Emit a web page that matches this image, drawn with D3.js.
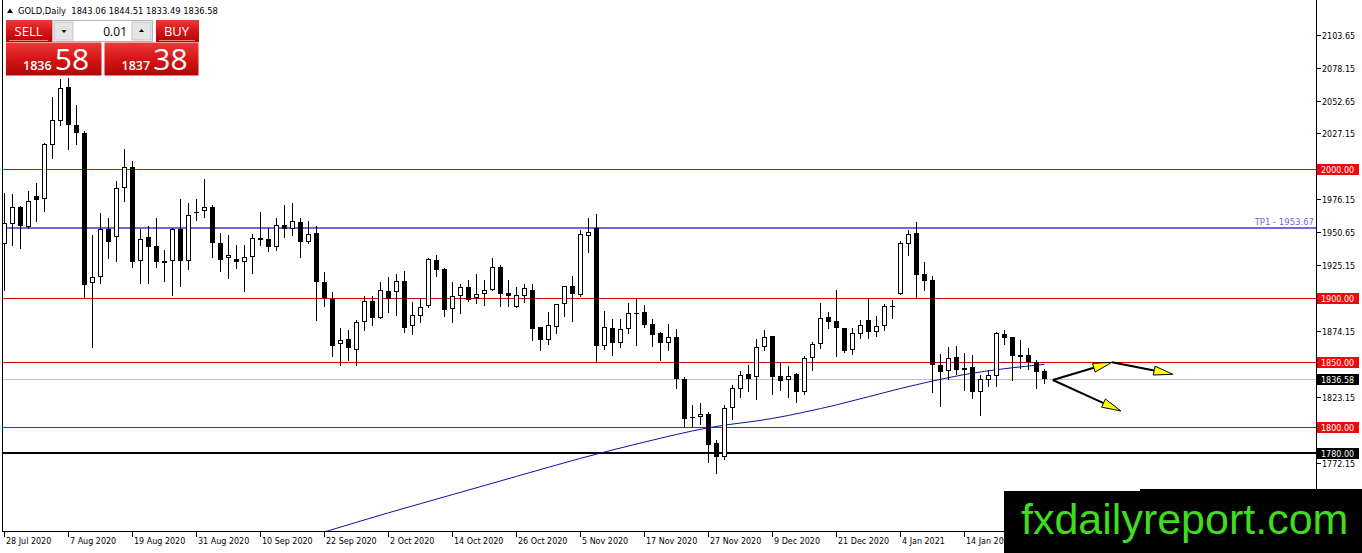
<!DOCTYPE html>
<html>
<head>
<meta charset="utf-8">
<script src="https://cdn.jsdelivr.net/npm/d3@7"></script>
<style>
  body { margin: 0; background: #fff; }
  svg { display: block; }
</style>
</head>
<body>
<div id="chart"></div>
<script>
// GOLD daily candles (bar 0 = 28 Jul 2020)
const open = [
  1941.5, 1957.0, 1970.4, 1954.9, 1978.7, 1976.1, 2018.4, 2037.0, 2062.9, 2033.5,
  2027.3, 1911.1, 1915.7, 1953.4, 1946.7, 1984.9, 2001.4, 1928.6, 1946.7, 1940.0,
  1928.1, 1928.1, 1953.4, 1928.6, 1966.6, 1966.8, 1970.4, 1942.3, 1930.4, 1929.9,
  1927.8, 1931.4, 1946.4, 1945.4, 1939.2, 1956.2, 1953.1, 1958.3, 1943.3, 1950.0,
  1911.9, 1898.9, 1864.3, 1867.9, 1859.2, 1880.9, 1897.4, 1884.4, 1905.1, 1904.6,
  1912.9, 1877.8, 1886.0, 1893.3, 1928.9, 1922.2, 1891.2, 1901.0, 1908.2, 1899.5,
  1903.0, 1906.1, 1923.7, 1903.6, 1892.7, 1901.5, 1905.7, 1877.2, 1866.9, 1877.2,
  1894.8, 1909.2, 1902.0, 1948.0, 1954.1, 1862.5, 1876.5, 1864.6, 1875.9, 1887.8,
  1888.8, 1879.6, 1872.4, 1865.1, 1869.3, 1836.7, 1807.4, 1807.3, 1809.8, 1787.1,
  1776.3, 1814.5, 1829.4, 1840.8, 1838.3, 1861.5, 1870.3, 1839.3, 1835.9, 1840.6,
  1826.7, 1853.0, 1863.8, 1885.0, 1881.9, 1876.2, 1859.2, 1872.0, 1882.4, 1873.1,
  1877.8, 1893.7, 1903.0, 1941.8, 1950.0, 1918.0, 1913.4, 1847.8, 1843.1, 1854.0,
  1845.7, 1846.2, 1826.6, 1836.4, 1839.5, 1871.6, 1869.5, 1855.5, 1855.5, 1850.3,
  1843.06
];
const high = [
  1980.8, 1980.2, 1970.9, 1982.8, 1989.0, 2020.0, 2055.2, 2069.1, 2070.1, 2049.4,
  2029.3, 1948.3, 1965.3, 1961.7, 1990.5, 2014.9, 2005.6, 1952.9, 1955.5, 1961.7,
  1936.9, 1953.6, 1976.1, 1973.0, 1976.6, 1992.1, 1972.0, 1950.3, 1948.5, 1940.7,
  1940.7, 1949.5, 1966.5, 1953.7, 1961.9, 1971.7, 1973.3, 1961.4, 1959.3, 1955.2,
  1919.6, 1904.6, 1876.2, 1874.7, 1882.9, 1901.5, 1901.5, 1911.9, 1916.0, 1918.5,
  1920.6, 1896.8, 1899.9, 1930.4, 1933.0, 1922.6, 1911.9, 1910.8, 1913.4, 1918.0,
  1913.4, 1930.9, 1925.3, 1913.4, 1908.2, 1910.3, 1910.3, 1877.2, 1889.1, 1895.3,
  1909.2, 1916.5, 1952.1, 1961.4, 1964.5, 1889.4, 1883.7, 1883.2, 1896.1, 1899.1,
  1894.0, 1883.7, 1873.4, 1879.6, 1875.4, 1838.3, 1816.6, 1818.1, 1811.4, 1789.7,
  1817.0, 1832.5, 1843.4, 1848.0, 1867.7, 1874.9, 1870.3, 1849.6, 1847.3, 1841.4,
  1855.0, 1865.4, 1895.8, 1888.6, 1905.7, 1876.7, 1876.2, 1882.4, 1899.5, 1885.5,
  1894.8, 1897.9, 1943.8, 1952.6, 1958.8, 1927.3, 1916.5, 1856.1, 1861.7, 1862.3,
  1857.1, 1855.5, 1840.0, 1843.7, 1873.1, 1875.1, 1869.5, 1866.9, 1860.7, 1851.9,
  1844.51
];
const low = [
  1905.9, 1940.7, 1938.2, 1954.0, 1959.6, 1967.3, 2008.1, 2033.7, 2014.9, 2019.0,
  1900.7, 1862.0, 1911.5, 1930.7, 1928.6, 1975.1, 1923.9, 1911.1, 1911.1, 1923.4,
  1913.1, 1901.8, 1909.0, 1922.4, 1960.1, 1962.7, 1931.7, 1920.6, 1915.4, 1923.2,
  1905.1, 1919.1, 1940.7, 1936.1, 1936.6, 1946.9, 1948.5, 1931.4, 1942.5, 1882.4,
  1893.7, 1855.0, 1847.8, 1851.4, 1847.8, 1874.7, 1878.8, 1884.0, 1889.1, 1886.5,
  1873.6, 1872.0, 1880.9, 1892.7, 1917.0, 1885.5, 1881.3, 1888.1, 1897.4, 1895.8,
  1894.3, 1905.6, 1893.8, 1893.8, 1892.4, 1896.8, 1867.4, 1859.2, 1864.3, 1872.6,
  1886.0, 1881.9, 1901.0, 1935.1, 1850.3, 1860.0, 1855.3, 1862.0, 1872.8, 1863.5,
  1877.0, 1862.5, 1851.7, 1859.4, 1830.0, 1800.0, 1800.0, 1802.1, 1772.7, 1763.9,
  1774.8, 1806.2, 1822.8, 1827.9, 1821.2, 1859.4, 1825.3, 1828.4, 1823.0, 1818.9,
  1825.1, 1843.7, 1861.2, 1876.7, 1854.5, 1857.6, 1856.6, 1868.5, 1868.5, 1870.5,
  1875.1, 1884.4, 1902.5, 1933.0, 1899.5, 1906.1, 1827.1, 1816.3, 1836.9, 1841.1,
  1828.2, 1822.5, 1809.1, 1831.8, 1831.8, 1864.3, 1836.4, 1845.7, 1844.7, 1830.2,
  1833.49
];
const close = [
  1958.0, 1970.4, 1955.5, 1974.6, 1975.6, 2019.0, 2037.6, 2062.1, 2033.9, 2027.3,
  1910.0, 1915.7, 1952.9, 1943.1, 1984.9, 2001.4, 1927.8, 1945.6, 1939.4, 1927.8,
  1927.0, 1953.4, 1928.6, 1963.7, 1966.0, 1969.9, 1942.1, 1929.4, 1933.0, 1927.8,
  1931.4, 1945.9, 1944.8, 1939.2, 1956.2, 1953.1, 1959.3, 1943.3, 1949.5, 1911.9,
  1899.9, 1862.7, 1866.9, 1860.7, 1880.9, 1897.4, 1884.4, 1905.7, 1898.9, 1912.9,
  1876.7, 1886.5, 1892.7, 1929.9, 1921.6, 1890.2, 1901.0, 1908.2, 1898.4, 1903.0,
  1905.7, 1923.7, 1903.0, 1901.0, 1902.0, 1907.2, 1875.7, 1866.9, 1878.8, 1895.3,
  1909.2, 1902.6, 1949.5, 1950.6, 1862.3, 1877.0, 1864.6, 1875.9, 1888.3, 1888.0,
  1879.0, 1871.3, 1865.1, 1869.7, 1836.7, 1806.2, 1807.2, 1809.8, 1786.1, 1776.3,
  1814.5, 1830.0, 1839.8, 1837.2, 1861.5, 1869.7, 1838.7, 1835.6, 1839.0, 1826.7,
  1853.5, 1863.8, 1884.4, 1880.9, 1876.2, 1858.6, 1872.6, 1878.8, 1873.1, 1877.8,
  1893.7, 1893.5, 1942.3, 1949.0, 1917.5, 1912.9, 1847.8, 1842.6, 1853.5, 1843.7,
  1844.2, 1827.1, 1836.9, 1840.0, 1872.6, 1868.9, 1855.0, 1854.0, 1850.3, 1842.6,
  1836.58
];

// moving average, read at a few bars
const maBars   = [40, 48, 56, 64, 72, 80, 88, 96, 104, 112, 120, 130];
const maValues = [1718.5, 1733.3, 1747.4, 1761.5, 1775.5, 1788.1, 1799.2, 1806.4, 1816.9, 1829.6, 1840.4, 1848.3];

// time axis labels, one every 8 bars
const dateLabels = ["28 Jul 2020", "7 Aug 2020", "19 Aug 2020", "31 Aug 2020", "10 Sep 2020",
  "22 Sep 2020", "2 Oct 2020", "14 Oct 2020", "26 Oct 2020", "5 Nov 2020", "17 Nov 2020",
  "27 Nov 2020", "9 Dec 2020", "21 Dec 2020", "4 Jan 2021", "14 Jan 2021"];
const labelStep = 8;

const yTicks = [2103.65, 2078.15, 2052.65, 2027.15, 2001.65, 1976.15, 1950.65, 1925.15,
  1899.65, 1874.15, 1848.65, 1823.15, 1797.65, 1772.15, 1746.65, 1721.15];

// horizontal levels
const redLevels = [2000, 1900, 1850, 1800];
const tpLevel = 1953.67;
const supportLevel = 1780;
const lastPrice = 1836.58;

// arrow sketch, [bar, price]
const arrowStart = [131.1, 1836.2];
const arrowTips  = [[138.5, 1849.9], [146.1, 1840.6], [139.6, 1812.2]];
const arrowFrom  = [arrowStart, arrowTips[0], arrowStart];

const symbolText = "GOLD,Daily  1843.06 1844.51 1833.49 1836.58";
const bid = ["1836", "58"], ask = ["1837", "38"], lot = "0.01";

// ---- chart ----
const W = 1362, H = 553;
const left = 2, right = 1316, bottom = 531;
const markTop = 489; // top of the watermark box

const svg = d3.select("#chart").append("svg")
  .attr("width", W).attr("height", H)
  .style("font-family", "'DejaVu Sans', Verdana, sans-serif");

const defs = svg.append("defs");
defs.append("clipPath").attr("id", "plot")
  .append("rect").attr("x", left).attr("y", 0).attr("width", right - left).attr("height", bottom);
const grad = defs.append("linearGradient").attr("id", "red").attr("x1", 0).attr("y1", 0).attr("x2", 0).attr("y2", 1);
grad.append("stop").attr("offset", "0%").attr("stop-color", "#ea3b3b");
grad.append("stop").attr("offset", "50%").attr("stop-color", "#d61515");
grad.append("stop").attr("offset", "100%").attr("stop-color", "#b10606");

const x = d3.scaleLinear().domain([0, 130]).range([4, 1044]);
const y = d3.scaleLinear().domain([1800, 2000]).range([426.7, 168.5]);
const py = v => Math.round(y(v)) + 0.5;

const plot = svg.append("g").attr("clip-path", "url(#plot)");

// level lines
plot.selectAll(".lvl").data(redLevels).enter().append("line")
  .attr("x1", left).attr("x2", right).attr("y1", d => py(d)).attr("y2", d => py(d))
  .attr("stroke", "#e00000").attr("stroke-width", 1);
plot.append("line").attr("x1", left).attr("x2", right)
  .attr("y1", py(lastPrice)).attr("y2", py(lastPrice))
  .attr("stroke", "#c0c0c0").attr("stroke-width", 1);
plot.append("line").attr("x1", left).attr("x2", right)
  .attr("y1", Math.round(y(tpLevel))).attr("y2", Math.round(y(tpLevel)))
  .attr("stroke", "#7468dc").attr("stroke-width", 2);
plot.append("line").attr("x1", left).attr("x2", right)
  .attr("y1", Math.round(y(supportLevel))).attr("y2", Math.round(y(supportLevel)))
  .attr("stroke", "#000").attr("stroke-width", 2);
plot.append("text").attr("x", right - 2).attr("y", Math.round(y(tpLevel)) - 3)
  .attr("text-anchor", "end").attr("font-size", 8.5).attr("fill", "#7468dc")
  .text("TP1 - " + tpLevel.toFixed(2));

// moving average
plot.append("path")
  .attr("d", d3.line().x(d => x(d) + 0.5).y((d, i) => y(maValues[i])).curve(d3.curveMonotoneX)(maBars))
  .attr("fill", "none").attr("stroke", "#1010a0").attr("stroke-width", 1);

// candles
const candles = plot.append("g").attr("shape-rendering", "crispEdges");
const idx = d3.range(open.length);
candles.selectAll(".wick").data(idx).enter().append("line")
  .attr("x1", i => x(i) + 0.5).attr("x2", i => x(i) + 0.5)
  .attr("y1", i => Math.round(y(high[i]))).attr("y2", i => Math.round(y(low[i])) + 1)
  .attr("stroke", "#000");
candles.selectAll(".body").data(idx).enter().append("rect")
  .each(function (i) {
    const top = Math.round(y(Math.max(open[i], close[i])));
    const bot = Math.round(y(Math.min(open[i], close[i])));
    const h = Math.max(1, bot - top);
    const el = d3.select(this);
    if (close[i] >= open[i] && h > 1) {
      el.attr("x", x(i) - 1.5).attr("y", top + 0.5).attr("width", 4).attr("height", h - 1)
        .attr("fill", "#fff").attr("stroke", "#000");
    } else {
      el.attr("x", x(i) - 2).attr("y", top).attr("width", 5).attr("height", h).attr("fill", "#000");
    }
  });

// arrows
const arrows = svg.append("g");
arrowTips.forEach((tip, k) => {
  const x0 = x(arrowFrom[k][0]), y0 = y(arrowFrom[k][1]);
  const x1 = x(tip[0]), y1 = y(tip[1]);
  const len = Math.hypot(x1 - x0, y1 - y0), ux = (x1 - x0) / len, uy = (y1 - y0) / len;
  const bx = x1 - ux * 19, by = y1 - uy * 19;
  arrows.append("line").attr("x1", x0).attr("y1", y0).attr("x2", bx).attr("y2", by)
    .attr("stroke", "#000").attr("stroke-width", 2);
  arrows.append("path")
    .attr("d", `M${x1},${y1}L${bx - uy * 4.5},${by + ux * 4.5}L${bx + uy * 4.5},${by - ux * 4.5}Z`)
    .attr("fill", "#ffff00").attr("stroke", "#000").attr("stroke-width", 1);
});

// frame and axes
const axes = svg.append("g").attr("shape-rendering", "crispEdges");
axes.append("line").attr("x1", left + 0.5).attr("x2", left + 0.5).attr("y1", 0).attr("y2", bottom + 1).attr("stroke", "#000");
axes.append("line").attr("x1", right + 0.5).attr("x2", right + 0.5).attr("y1", 0).attr("y2", bottom + 1).attr("stroke", "#000");
axes.append("line").attr("x1", left).attr("x2", right + 1).attr("y1", bottom + 0.5).attr("y2", bottom + 0.5).attr("stroke", "#000");

// price tags on the axis
const tags = redLevels.map(v => ({ v, c: "#ee0a0a" }))
  .concat([{ v: lastPrice, c: "#000" }, { v: supportLevel, c: "#000" }]);

// tick labels that sit under a tag or under the watermark are not shown
const shownTicks = yTicks.filter(t =>
  py(t) < markTop - 4 && tags.every(g => Math.abs(py(t) - py(g.v)) > 9));

axes.selectAll(".yt").data(yTicks).enter().append("line")
  .attr("x1", right + 1).attr("x2", right + 5).attr("y1", d => py(d)).attr("y2", d => py(d)).attr("stroke", "#000");
svg.selectAll(".yl").data(shownTicks).enter().append("text")
  .attr("x", right + 6).attr("y", d => py(d) + 3).attr("font-size", 8).attr("fill", "#000")
  .text(d => d.toFixed(2));

axes.selectAll(".xt").data(dateLabels).enter().append("line")
  .attr("x1", (d, i) => x(i * labelStep) + 0.5).attr("x2", (d, i) => x(i * labelStep) + 0.5)
  .attr("y1", bottom + 1).attr("y2", bottom + 6).attr("stroke", "#000");
svg.selectAll(".xl").data(dateLabels).enter().append("text")
  .attr("x", (d, i) => x(i * labelStep) + 2).attr("y", bottom + 13).attr("font-size", 8).attr("fill", "#000")
  .text(d => d);

const tagG = svg.selectAll(".tag").data(tags).enter().append("g");
tagG.append("rect").attr("x", right + 1).attr("y", d => Math.round(y(d.v)) - 5)
  .attr("width", 42).attr("height", 11).attr("fill", d => d.c);
tagG.append("text").attr("x", right + 5).attr("y", d => Math.round(y(d.v)) + 3.5)
  .attr("font-size", 8).attr("fill", "#fff").text(d => d.v.toFixed(2));

// symbol header
svg.append("path").attr("d", "M7,13L10,8.5L13,13Z").attr("fill", "#000");
svg.append("text").attr("x", 18).attr("y", 14).attr("font-size", 8.4).attr("fill", "#000")
  .attr("xml:space", "preserve").style("white-space", "pre").text(symbolText);

// one-click trading panel
const panel = svg.append("g").style("font-family", "'Open Sans', 'Noto Sans', sans-serif");
panel.append("rect").attr("x", 6).attr("y", 20).attr("width", 46).attr("height", 22).attr("fill", "url(#red)");
panel.append("rect").attr("x", 156).attr("y", 20).attr("width", 43).attr("height", 22).attr("fill", "url(#red)");
panel.append("line").attr("x1", 9).attr("x2", 48).attr("y1", 40.5).attr("y2", 40.5).attr("stroke", "#f08080");
panel.append("line").attr("x1", 159).attr("x2", 195).attr("y1", 40.5).attr("y2", 40.5).attr("stroke", "#f08080");
panel.append("text").attr("x", 28.5).attr("y", 35.5).attr("text-anchor", "middle").attr("font-size", 13).attr("fill", "#fff").text("SELL");
panel.append("text").attr("x", 176.5).attr("y", 35.5).attr("text-anchor", "middle").attr("font-size", 13).attr("fill", "#fff").text("BUY");

panel.append("rect").attr("x", 52.5).attr("y", 20.5).attr("width", 100).attr("height", 21).attr("fill", "#fff").attr("stroke", "#b8b8b8");
panel.append("rect").attr("x", 54).attr("y", 22).attr("width", 19).attr("height", 18).attr("fill", "#e4e4e4").attr("stroke", "#c8c8c8");
panel.append("rect").attr("x", 132).attr("y", 22).attr("width", 19).attr("height", 18).attr("fill", "#e4e4e4").attr("stroke", "#c8c8c8");
panel.append("path").attr("d", "M61.5,30L66.5,30L64,33Z").attr("fill", "#000");
panel.append("path").attr("d", "M139,32L144,32L141.5,29Z").attr("fill", "#000");
panel.append("text").attr("x", 127).attr("y", 35.5).attr("text-anchor", "end").attr("font-size", 12).attr("fill", "#000").text(lot);

[[6, 95.5, bid], [104.5, 94, ask]].forEach(([bx, bw, q]) => {
  panel.append("rect").attr("x", bx).attr("y", 42.5).attr("width", bw).attr("height", 33).attr("fill", "url(#red)");
  const t = panel.append("text").attr("y", 70).attr("fill", "#fff")
    .attr("x", bx + 17).attr("xml:space", "preserve");
  t.append("tspan").attr("font-size", 12.5).attr("font-weight", 600).text(q[0] + " ");
  t.append("tspan").attr("font-size", 30).text(q[1]);
});

// watermark
svg.append("rect").attr("x", 1004).attr("y", markTop + 2).attr("width", W - 1004).attr("height", H - markTop - 2).attr("fill", "#000");
svg.append("rect").attr("x", 1140).attr("y", markTop).attr("width", W - 1140).attr("height", 3).attr("fill", "#000");
svg.append("text").attr("x", 1021).attr("y", 533.5)
  .style("font-family", "'Liberation Sans', Arial, sans-serif")
  .attr("font-size", 43).attr("fill", "#3fdc1f").text("fxdailyreport.com");
</script>
</body>
</html>
